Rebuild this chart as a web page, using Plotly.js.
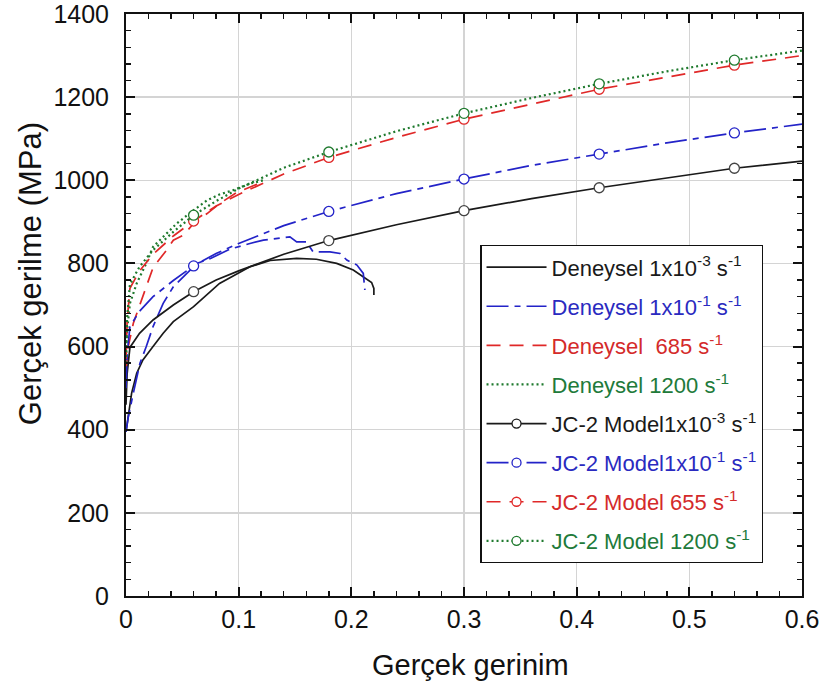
<!DOCTYPE html>
<html>
<head>
<meta charset="utf-8">
<script src="https://cdn.plot.ly/plotly-3.0.1.min.js"></script>
<style>html,body{margin:0;padding:0;background:#fff;}#chart{width:829px;height:693px;}</style>
</head>
<body>
<div id="chart"></div>
<script>
// ---- Experimental curves (Deneysel) ----
const exp1_x = [0, 0.0006, 0.002, 0.005, 0.0095, 0.015, 0.024, 0.033, 0.042, 0.06, 0.083, 0.101, 0.11, 0.128, 0.1515, 0.169, 0.187, 0.2017, 0.2106, 0.218, 0.22, 0.22];
const exp1_y = [395, 407, 440, 488, 536, 568, 600, 632, 660, 696, 752, 780, 792, 807, 812, 810, 800, 784, 768, 754, 740, 724];

const exp2_x = [0, 0.002, 0.0065, 0.0124, 0.018, 0.024, 0.033, 0.042, 0.054, 0.063, 0.075, 0.083, 0.092, 0.11, 0.122, 0.1455, 0.1515, 0.16, 0.166, 0.181, 0.19, 0.196, 0.205, 0.2106, 0.212];
const exp2_y = [395, 430, 488, 560, 600, 648, 704, 744, 776, 800, 812, 822, 834, 848, 856, 864, 852, 852, 828, 828, 824, 808, 796, 776, 736];

const exp3_x = [0, 0.002, 0.0065, 0.015, 0.024, 0.036, 0.042, 0.051, 0.06, 0.072, 0.083, 0.098, 0.11, 0.122];
const exp3_y = [540, 600, 656, 720, 790, 832, 856, 868, 896, 920, 944, 970, 984, 997];

const exp4_x = [0, 0.001, 0.0035, 0.0095, 0.018, 0.024, 0.033, 0.045, 0.06, 0.072, 0.083, 0.095, 0.11, 0.122];
const exp4_y = [560, 640, 704, 752, 800, 840, 864, 896, 928, 952, 966, 976, 992, 1000];

// ---- JC-2 model curves ----
const model_x = [0, 0.001, 0.0035, 0.012, 0.024, 0.042, 0.06, 0.08, 0.1, 0.14, 0.18, 0.24, 0.3, 0.36, 0.42, 0.48, 0.54, 0.6];
const model1_y = [460, 535, 598, 632, 664, 700, 732, 760, 782, 822, 855, 893, 927, 956, 982, 1006, 1029, 1046];
const model2_y = [500, 580, 648, 685, 720, 759, 794, 824, 848, 891, 925, 968, 1003, 1036, 1063, 1090, 1114, 1135];
const model3_y = [570, 662, 740, 782, 822, 866, 902, 938, 966, 1015, 1055, 1103, 1147, 1183, 1219, 1248, 1277, 1300];
const model4_y = [575, 670, 750, 792, 832, 876, 916, 950, 980, 1030, 1068, 1118, 1161, 1198, 1232, 1262, 1289, 1312];

// marker positions on the model curves
const mark_x = [0.06, 0.18, 0.3, 0.42, 0.54];
const mark1_y = [732, 855, 927, 982, 1029];
const mark2_y = [794, 925, 1003, 1063, 1114];
const mark3_y = [902, 1055, 1147, 1219, 1277];
const mark4_y = [916, 1068, 1161, 1232, 1289];

// axis ticks and titles
const x_ticks = [0, 0.1, 0.2, 0.3, 0.4, 0.5, 0.6];
const x_tick_labels = ['0', '0.1', '0.2', '0.3', '0.4', '0.5', '0.6'];
const y_ticks = [0, 200, 400, 600, 800, 1000, 1200, 1400];
const y_tick_labels = ['0', '200', '400', '600', '800', '1000', '1200', '1400'];
const x_title = 'Gerçek gerinim';
const y_title = 'Gerçek gerilme (MPa)';

// legend labels
const exp_names = [
  'Deneysel 1x10<sup>-3</sup> s<sup>-1</sup>',
  'Deneysel 1x10<sup>-1</sup> s<sup>-1</sup>',
  'Deneysel  685 s<sup>-1</sup>',
  'Deneysel 1200 s<sup>-1</sup>'
];
const model_names = [
  'JC-2 Model1x10<sup>-3</sup> s<sup>-1</sup>',
  'JC-2 Model1x10<sup>-1</sup> s<sup>-1</sup>',
  'JC-2 Model 655 s<sup>-1</sup>',
  'JC-2 Model 1200 s<sup>-1</sup>'
];

const colors = ['#1a1a1a', '#2323c8', '#e02828', '#1f7a2e'];
const textColors = ['#1a1a1a', '#2a2ac0', '#d42a2a', '#217a3a'];
const dashes = ['solid', '22px,6px,6px,6px', '14px,9px', '2px,3px'];

function lbl(i, s) { return '<span style="color:' + textColors[i] + '">' + s + '</span>'; }

const expX = [exp1_x, exp2_x, exp3_x, exp4_x];
const expY = [exp1_y, exp2_y, exp3_y, exp4_y];
const modelY = [model1_y, model2_y, model3_y, model4_y];
const markY = [mark1_y, mark2_y, mark3_y, mark4_y];

const traces = [];
for (let i = 0; i < 4; i++) {
  traces.push({
    x: expX[i], y: expY[i], type: 'scatter', mode: 'lines',
    name: lbl(i, exp_names[i]), legendgroup: 'e' + i,
    line: {color: colors[i], width: i === 3 ? 2.2 : 1.7, dash: dashes[i]}
  });
}
for (let i = 0; i < 4; i++) {
  traces.push({
    x: [null], y: [null], type: 'scatter', mode: 'lines+markers',
    name: lbl(i, model_names[i]), legendgroup: 'm' + i,
    line: {color: colors[i], width: i === 3 ? 2.2 : 1.7, dash: dashes[i]},
    marker: {symbol: 'circle', size: 9, color: '#ffffff', line: {color: colors[i], width: 1.3}}
  });
  traces.push({
    x: model_x, y: modelY[i], type: 'scatter', mode: 'lines', showlegend: false,
    legendgroup: 'm' + i, hoverinfo: 'skip',
    line: {color: colors[i], width: i === 3 ? 2.2 : 1.7, dash: dashes[i]}
  });
  traces.push({
    x: mark_x, y: markY[i], type: 'scatter', mode: 'markers', showlegend: false,
    legendgroup: 'm' + i,
    marker: {symbol: 'circle', size: 10, color: '#ffffff', line: {color: i === 0 ? '#444' : colors[i], width: 1.3}}
  });
}

const font = 'Arial, "Liberation Sans", sans-serif';
const layout = {
  width: 829, height: 693,
  margin: {l: 126, r: 27, t: 14, b: 97},
  paper_bgcolor: '#ffffff', plot_bgcolor: '#ffffff',
  font: {family: font, color: '#111', size: 20},
  showlegend: true,
  legend: {
    x: 0.524, y: 0.603, xanchor: 'left', yanchor: 'top',
    bgcolor: '#ffffff', bordercolor: '#111', borderwidth: 1.3,
    font: {family: font, size: 22},
    traceorder: 'grouped', tracegroupgap: 7.5,
    itemwidth: 60
  },
  xaxis: {
    range: [0, 0.6], tickmode: 'array', tickvals: x_ticks, ticktext: x_tick_labels,
    showline: true, linecolor: '#111', linewidth: 2, mirror: 'allticks',
    ticks: 'inside', ticklen: 9, tickwidth: 2, tickcolor: '#111',
    showgrid: true, gridcolor: '#d4d4d4', gridwidth: 1.3, zeroline: false,
    minor: {dtick: 0.02, tick0: 0, ticks: 'inside', ticklen: 5, tickwidth: 1.5, tickcolor: '#111', showgrid: false},
    tickfont: {family: font, size: 25, color: '#111'},
    ticklabelstandoff: 0, ticklabeloverflow: 'allow'
  },
  yaxis: {
    range: [0, 1400], tickmode: 'array', tickvals: y_ticks, ticktext: y_tick_labels,
    showline: true, linecolor: '#111', linewidth: 2, mirror: 'allticks',
    ticks: 'inside', ticklen: 9, tickwidth: 2, tickcolor: '#111',
    showgrid: true, gridcolor: '#d4d4d4', gridwidth: 1.3, zeroline: false,
    minor: {dtick: 40, tick0: 0, ticks: 'inside', ticklen: 5, tickwidth: 1.5, tickcolor: '#111', showgrid: false},
    tickfont: {family: font, size: 25, color: '#111'},
    ticklabelstandoff: 10, ticklabeloverflow: 'allow'
  },
  annotations: [
    {text: x_title, xref: 'paper', yref: 'paper', x: 0.51, y: -0.118, xanchor: 'center', yanchor: 'middle',
     showarrow: false, font: {family: font, size: 29, color: '#111'}},
    {text: y_title, xref: 'paper', yref: 'paper', x: -0.142, y: 0.553, xanchor: 'center', yanchor: 'middle',
     textangle: -90, showarrow: false, font: {family: font, size: 31, color: '#111'}}
  ]
};

Plotly.newPlot('chart', traces, layout, {displayModeBar: false, staticPlot: true});
</script>
</body>
</html>
